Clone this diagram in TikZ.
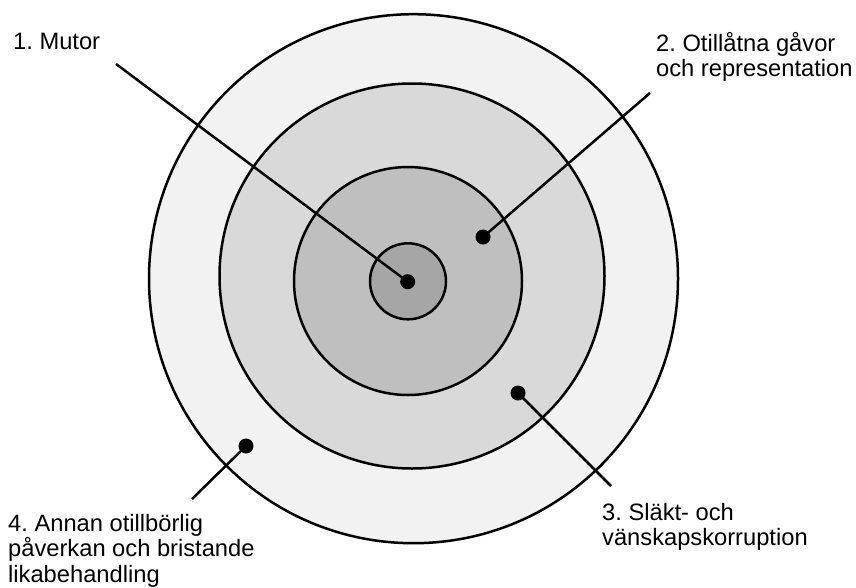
\documentclass[tikz,border=0pt]{standalone}
\usepackage{fontspec}
\setmainfont{Liberation Sans}
\frenchspacing
\definecolor{ringA}{HTML}{F2F2F2}
\definecolor{ringB}{HTML}{D9D9D9}
\definecolor{ringC}{HTML}{BFBFBF}
\definecolor{ringD}{HTML}{A6A6A6}
\begin{document}
\begin{tikzpicture}[x=1pt,y=-1pt,
  ring/.style={draw=black,line width=2.5pt},
  leader/.style={draw=black,line width=2.5pt},
  dotmark/.style={circle,fill=black,inner sep=0pt,minimum size=15pt},
  lbl/.style={anchor=base west,inner sep=0pt,font=\fontsize{23.7}{25.5}\selectfont}]
\useasboundingbox (0,0) rectangle (856,587);
\fill[white] (0,0) rectangle (856,587);
\draw[ring,fill=ringA] (413.5,278.7) circle (264.5);
\draw[ring,fill=ringB] (412,276) circle (192.5);
\draw[ring,fill=ringC] (408,281) circle (114);
\draw[ring,fill=ringD] (408,281.3) circle (38);
\node[dotmark] (d1) at (407.7,281.7) {};
\node[dotmark] (d2) at (483,237) {};
\node[dotmark] (d3) at (518,393) {};
\node[dotmark] (d4) at (246,446) {};
\coordinate (e1) at (116,64);
\coordinate (e2) at (650,93);
\coordinate (e3) at (611,486);
\coordinate (e4) at (192,499);
\draw[leader] (e1) -- (d1.center);
\draw[leader] (e2) -- (d2.center);
\draw[leader] (e3) -- (d3.center);
\draw[leader] (e4) -- (d4.center);
\node[lbl] (t1) at (13,49) {1. Mutor};
\node[lbl] (t2) at (656,51) {\vtop{\hbox{2. Otillåtna gåvor}\hbox{och representation}}};
\node[lbl] (t3) at (602,520) {\vtop{\hbox{3. Släkt- och}\hbox{vänskapskorruption}}};
\node[lbl] (t4) at (8,531) {\vtop{\hbox{4. Annan otillbörlig}\hbox{påverkan och bristande}\hbox{likabehandling}}};
\end{tikzpicture}
\end{document}
